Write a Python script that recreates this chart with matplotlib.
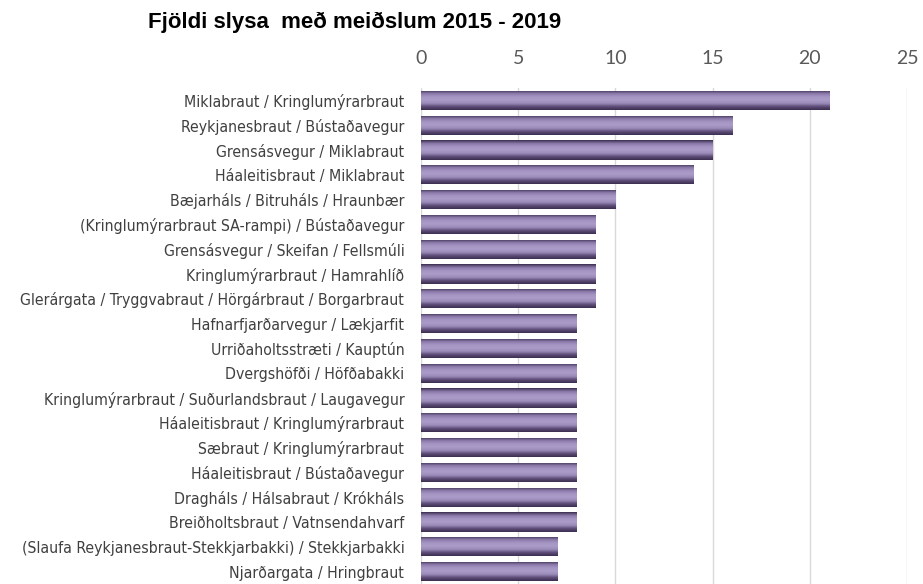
import matplotlib
matplotlib.use("Agg")
import matplotlib.pyplot as plt
from matplotlib import font_manager
import numpy as np
from matplotlib.colors import LinearSegmentedColormap

# gatnamot og fjoldi slysa med meidslum
locations = [
    "Miklabraut / Kringlumýrarbraut",
    "Reykjanesbraut / Bústaðavegur",
    "Grensásvegur / Miklabraut",
    "Háaleitisbraut / Miklabraut",
    "Bæjarháls / Bitruháls / Hraunbær",
    "(Kringlumýrarbraut SA-rampi) / Bústaðavegur",
    "Grensásvegur / Skeifan / Fellsmúli",
    "Kringlumýrarbraut / Hamrahlíð",
    "Glerárgata / Tryggvabraut / Hörgárbraut / Borgarbraut",
    "Hafnarfjarðarvegur / Lækjarfit",
    "Urriðaholtsstræti / Kauptún",
    "Dvergshöfði / Höfðabakki",
    "Kringlumýrarbraut / Suðurlandsbraut / Laugavegur",
    "Háaleitisbraut / Kringlumýrarbraut",
    "Sæbraut / Kringlumýrarbraut",
    "Háaleitisbraut / Bústaðavegur",
    "Dragháls / Hálsabraut / Krókháls",
    "Breiðholtsbraut / Vatnsendahvarf",
    "(Slaufa Reykjanesbraut-Stekkjarbakki) / Stekkjarbakki",
    "Njarðargata / Hringbraut",
]
accidents = [21, 16, 15, 14, 10, 9, 9, 9, 9, 8, 8, 8, 8, 8, 8, 8, 8, 8, 7, 7]
xticks = [0, 5, 10, 15, 20, 25]

# labels in the original use a narrow font - look for one, else shrink Arial-like
label_font = None
for want in ["LiberationSansNarrow-Regular", "ArialNarrow", "DejaVuSansCondensed.ttf"]:
    for f in font_manager.fontManager.ttflist:
        if want.lower() in f.fname.replace(" ", "").lower():
            label_font = font_manager.FontProperties(fname=f.fname, size=11.3)
            break
    if label_font is not None:
        break
if label_font is None:
    label_font = font_manager.FontProperties(family="Liberation Sans", size=10.8)

W, H = 923, 584
fig = plt.figure(figsize=(W / 100, H / 100), dpi=100)
ax = fig.add_axes([421 / W, 0, (907 - 421) / W, (H - 88) / H])

# cylinder-like shading on the bars
shade = LinearSegmentedColormap.from_list(
    "bar", ["#3b2e4f", "#8a79a9", "#a595c3", "#ab9cc8", "#9a8ab8", "#5e4d78", "#3b2e4f"])
grad = np.linspace(0, 1, 64).reshape(-1, 1)

bar_h = 0.77
ypos = np.arange(len(locations))
bars = ax.barh(ypos, accidents, height=bar_h, color="#9d8cba", zorder=2)
for y, v, b in zip(ypos, accidents, bars):
    im = ax.imshow(grad, cmap=shade, aspect="auto", zorder=3,
                   extent=[0, v, y + bar_h / 2, y - bar_h / 2])
    im.set_clip_path(b)

ax.set_xlim(0, 25)
ax.set_ylim(len(locations) - 0.5, -0.5)
ax.set_xticks(xticks)
ax.set_yticks(ypos)
ax.set_yticklabels(locations, fontproperties=label_font, color="#404040")
ax.xaxis.tick_top()
ax.tick_params(axis="x", length=0, pad=15, labelsize=14, labelcolor="#595959")
ax.tick_params(axis="y", length=0, pad=12)
for lab in ax.get_xticklabels():
    lab.set_family(["Lato", "DejaVu Sans"])
ax.grid(axis="x", color="#d9d9d9", linewidth=1, zorder=0)
ax.set_axisbelow(True)
for s in ax.spines.values():
    s.set_visible(False)

fig.text(148 / W, 1 - 22 / H, "Fjöldi slysa  með meiðslum 2015 - 2019",
         family=["Liberation Sans", "DejaVu Sans"], fontweight="bold",
         fontsize=16, ha="left", va="center", color="black")

fig.savefig("out.png", dpi=100)
